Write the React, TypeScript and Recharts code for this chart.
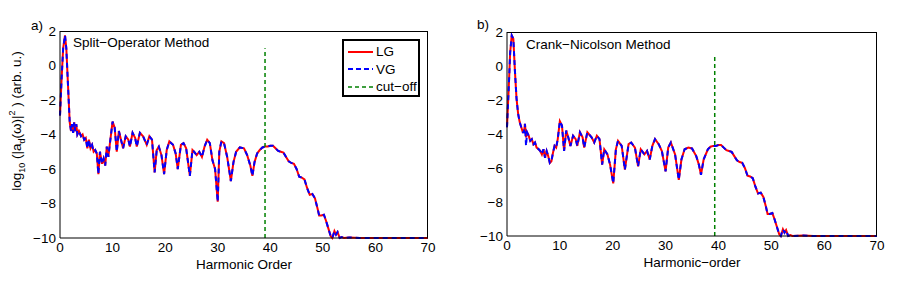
import React from 'react';
import { LineChart, Line, XAxis, YAxis, Label } from 'recharts';

// panel a: split-operator
const hA = [0, 0.3, 0.6, 0.95, 1.2, 1.5, 1.85, 2.1, 2.3, 2.5, 2.7, 2.9, 3.1, 3.3, 3.6, 4.0, 4.3, 4.6, 4.9, 5.2, 5.5, 5.8, 6.1, 6.4, 6.7, 7.0, 7.3, 7.6, 8.0, 8.3, 8.6, 8.9, 9.2, 9.5, 10.0, 10.4, 10.8, 11.2, 11.6, 12.0, 12.5, 13.0, 13.3, 13.8, 14.3, 14.6, 15.2, 15.8, 16.5, 17.0, 17.5, 18.0, 18.4, 18.8, 19.3, 19.8, 20.3, 20.8, 21.5, 22.0, 22.4, 23.0, 23.5, 24.0, 24.7, 25.2, 25.5, 26.0, 26.5, 27.0, 27.5, 28.0, 28.5, 29.0, 29.5, 30.0, 30.3, 30.7, 31.2, 31.8, 32.5, 33.0, 33.5, 34.2, 35.0, 35.6, 36.2, 36.6, 37.0, 37.5, 38.0, 38.5, 39.0, 39.5, 40.0, 40.5, 41.0, 41.5, 42.0, 42.5, 43.0, 43.5, 44.0, 44.5, 45.0, 45.5, 46.0, 46.5, 47.0, 47.5, 48.0, 48.5, 49.0, 49.3, 49.7, 50.2, 50.6, 51.0, 51.5, 51.8, 52.2, 52.5, 52.8, 53.2, 53.6, 54, 55, 57, 60, 65, 70];
const lgA = [-2.9, -0.8, 1.0, 1.75, 1.0, -1.0, -3.3, -3.8, -3.4, -3.9, -3.3, -3.8, -3.4, -4.0, -3.8, -4.1, -4.0, -4.3, -4.2, -4.8, -4.3, -4.8, -4.6, -5.0, -4.9, -5.1, -6.3, -5.0, -5.7, -5.4, -5.8, -4.7, -5.3, -4.5, -3.25, -3.6, -5.0, -3.8, -4.3, -4.8, -4.1, -4.3, -4.7, -3.9, -4.2, -4.7, -3.9, -4.1, -4.6, -4.1, -4.3, -6.2, -4.9, -4.7, -5.2, -6.3, -4.9, -4.4, -4.6, -5.1, -6.0, -4.6, -4.5, -4.8, -6.4, -4.9, -5.0, -5.2, -5.0, -5.3, -4.7, -4.3, -4.5, -5.5, -6.0, -7.9, -5.0, -4.4, -4.5, -5.3, -6.7, -5.6, -5.0, -4.75, -4.8, -5.2, -5.8, -6.4, -5.6, -5.1, -4.9, -4.75, -4.7, -4.7, -4.65, -4.65, -4.8, -4.95, -5.0, -5.05, -5.3, -5.55, -5.65, -5.7, -6.0, -6.45, -6.5, -6.6, -7.1, -7.5, -7.45, -7.7, -8.3, -8.7, -8.7, -8.65, -9.0, -9.4, -9.9, -10.0, -9.6, -9.8, -9.65, -10.0, -9.95, -10, -9.97, -10, -10, -10, -10];
const vgA = [...lgA];

// panel b: crank-nicolson
const hB = [0, 0.3, 0.6, 0.9, 1.2, 1.5, 1.8, 2.1, 2.4, 2.7, 3.0, 3.2, 3.4, 3.6, 3.8, 4.1, 4.4, 4.7, 5.0, 5.3, 5.6, 6.0, 6.3, 6.6, 6.9, 7.2, 7.5, 7.8, 8.1, 8.4, 8.7, 9.0, 9.3, 9.6, 10.0, 10.4, 10.8, 11.2, 11.6, 12.0, 12.5, 13.0, 13.3, 13.8, 14.3, 14.6, 15.2, 16.0, 16.5, 17.0, 17.5, 18.0, 18.4, 19.0, 19.5, 20.1, 20.6, 21.0, 21.7, 22.3, 23.0, 23.5, 24.2, 24.8, 25.3, 26.0, 26.5, 27.0, 27.5, 28.0, 28.7, 29.3, 30.0, 30.5, 31.0, 31.8, 32.5, 33.0, 33.6, 34.3, 35.0, 35.8, 36.3, 36.7, 37.2, 38.0, 38.5, 39.0, 39.5, 40.0, 40.5, 41.0, 41.5, 42.0, 42.5, 43.0, 43.5, 44.0, 44.5, 45.0, 45.5, 46.0, 46.5, 47.0, 47.5, 48.0, 48.5, 49.0, 49.3, 49.7, 50.2, 50.6, 51.0, 51.5, 51.8, 52.2, 52.5, 52.8, 53.2, 53.6, 54, 56, 58, 60, 65, 70];
const lgB = [-3.6, -1.5, 0.8, 1.8, 1.6, -0.3, -1.9, -2.8, -3.3, -3.6, -3.9, -3.9, -3.4, -4.2, -3.9, -4.1, -4.4, -4.3, -4.6, -4.5, -4.8, -4.9, -5.0, -5.2, -4.9, -5.4, -5.0, -5.3, -5.7, -5.6, -5.1, -4.7, -4.8, -4.3, -3.25, -3.5, -5.0, -3.8, -4.2, -4.7, -4.1, -4.3, -4.7, -3.9, -4.2, -4.8, -3.9, -4.2, -4.5, -4.1, -4.3, -5.8, -4.9, -5.2, -5.8, -6.9, -4.9, -4.4, -4.7, -6.1, -4.6, -4.5, -4.8, -5.9, -4.9, -5.2, -5.0, -5.5, -4.7, -4.3, -4.6, -5.0, -6.2, -4.8, -4.5, -5.2, -6.7, -5.5, -4.9, -4.8, -4.85, -5.3, -5.8, -6.4, -5.5, -4.9, -4.75, -4.7, -4.7, -4.65, -4.65, -4.8, -4.95, -5.0, -5.05, -5.3, -5.55, -5.65, -5.7, -6.0, -6.45, -6.5, -6.6, -7.1, -7.5, -7.45, -7.7, -8.3, -8.7, -8.7, -8.65, -9.0, -9.4, -9.9, -10.0, -9.6, -9.8, -9.65, -10.0, -9.95, -10, -9.97, -10, -10, -10, -10];
const vgB = lgB.map((v, i) => (hB[i] === 3.6 ? -4.7 : v));

// cut-off markers
const cutA = [{ h: 39, c: -10 }, { h: 39, c: 1 }];
const cutB = [{ h: 39.3, c: -10 }, { h: 39.3, c: 0.7 }];

const X_MIN = 0, X_MAX = 70, Y_MIN = -10, Y_MAX = 2;
const xTicks = [0, 10, 20, 30, 40, 50, 60, 70];
const yTicks = [-10, -8, -6, -4, -2, 0, 2];
const legendItems = ['LG', 'VG', 'cut\u2212off'];

const FONT = '"Liberation Sans", Arial, Helvetica, sans-serif';
const fmt = (v: number) => String(v).replace('-', '\u2212');
const tickStyle = { fill: '#000', fontSize: 13.5, fontFamily: FONT };

const CHART_W = 453, CHART_H = 281, Y_AXIS_W = 45, X_AXIS_H = 30;
const marginA = { top: 31, right: 25, bottom: 13, left: 15 };
const marginB = { top: 32, right: 29, bottom: 15, left: 9 };

const rows = (h: number[], lg: number[], vg: number[]) => h.map((x, i) => ({ h: x, lg: lg[i], vg: vg[i] }));

const LegendBox = () => (
  <div style={{ width: 78, height: 58, border: '2px solid #000', background: '#fff', fontFamily: FONT, fontSize: 13.5, boxSizing: 'border-box' }}>
    {legendItems.map((name, i) => (
      <div key={name} style={{ display: 'flex', alignItems: 'center', height: 17.5, marginTop: i === 0 ? 2 : 0 }}>
        <svg width={28} height={10} style={{ marginLeft: 3 }}>
          <line x1={1} y1={5} x2={26} y2={5}
            stroke={i === 0 ? '#ff0000' : i === 1 ? '#0000ff' : '#008000'}
            strokeWidth={i === 2 ? 1.5 : 2}
            strokeDasharray={i === 0 ? undefined : i === 1 ? '5 3' : '4 3'} />
        </svg>
        <span style={{ marginLeft: 1 }}>{name}</span>
      </div>
    ))}
  </div>
);

// top/right edges of the axes box, laid over the plot area from the chart margins
const BoxEdges = ({ left, margin }: any) => (
  <div style={{
    position: 'absolute',
    left: left + margin.left + Y_AXIS_W,
    top: margin.top,
    width: CHART_W - margin.left - Y_AXIS_W - margin.right,
    height: CHART_H - margin.top - margin.bottom - X_AXIS_H,
    borderTop: '1px solid #000', borderRight: '1px solid #000',
    boxSizing: 'border-box', pointerEvents: 'none',
  }} />
);

const Panel = ({ data, cut, xLabel, margin }: any) => (
  <LineChart width={CHART_W} height={CHART_H} data={data} margin={margin}>
    <XAxis dataKey="h" type="number" domain={[X_MIN, X_MAX]} ticks={xTicks}
      tickLine={false} tickSize={0} tickMargin={4} height={X_AXIS_H} tick={tickStyle}
      axisLine={{ stroke: '#000', strokeWidth: 1 }}>
      <Label value={xLabel} position="insideBottom" offset={-1}
        style={{ fill: '#000', fontSize: 13.5, fontFamily: FONT }} />
    </XAxis>
    <YAxis type="number" domain={[Y_MIN, Y_MAX]} ticks={yTicks} width={Y_AXIS_W}
      tickLine={false} tickSize={0} tickMargin={4} tick={tickStyle} tickFormatter={fmt}
      axisLine={{ stroke: '#000' }} />
    <Line dataKey="lg" name="LG" type="linear" stroke="#ff0000" strokeWidth={2} dot={false} isAnimationActive={false} />
    <Line dataKey="vg" name="VG" type="linear" stroke="#0000ff" strokeWidth={2} strokeDasharray="5 4" dot={false} isAnimationActive={false} />
    <Line data={cut} dataKey="c" name="cut-off" type="linear" stroke="#008000" strokeWidth={1.5} strokeDasharray="4 3" dot={false} isAnimationActive={false} />
  </LineChart>
);

const App = () => (
  <div style={{ position: 'absolute', left: 0, top: 0, width: 906, height: 281, background: '#fff', fontFamily: FONT, overflow: 'hidden' }}>
    <div style={{ position: 'absolute', left: 0, top: 0 }}>
      <Panel data={rows(hA, lgA, vgA)} cut={cutA} xLabel="Harmonic Order" margin={marginA} />
    </div>
    <div style={{ position: 'absolute', left: CHART_W, top: 0 }}>
      <Panel data={rows(hB, lgB, vgB)} cut={cutB} xLabel={'Harmonic\u2212order'} margin={marginB} />
    </div>
    <BoxEdges left={0} margin={marginA} />
    <BoxEdges left={CHART_W} margin={marginB} />
    <div style={{ position: 'absolute', left: 342, top: 39 }}><LegendBox /></div>
    <div style={{ position: 'absolute', left: 31, top: 18, fontSize: 13.5 }}>a)</div>
    <div style={{ position: 'absolute', left: 477, top: 17, fontSize: 13.5 }}>b)</div>
    <div style={{ position: 'absolute', left: 73, top: 35, fontSize: 13.5 }}>Split{'\u2212'}Operator Method</div>
    <div style={{ position: 'absolute', left: 526, top: 37, fontSize: 13.5 }}>Crank{'\u2212'}Nicolson Method</div>
    <div style={{ position: 'absolute', left: 17, top: 121, transform: 'translate(-50%, -50%) rotate(-90deg)', whiteSpace: 'nowrap', fontSize: 13.5 }}>
      log<sub style={{ fontSize: 9 }}>10</sub> (|a<sub style={{ fontSize: 9 }}>d</sub>({'\u03c9'})|<sup style={{ fontSize: 9 }}>2</sup> ) (arb. u.)
    </div>
  </div>
);

export default App;
